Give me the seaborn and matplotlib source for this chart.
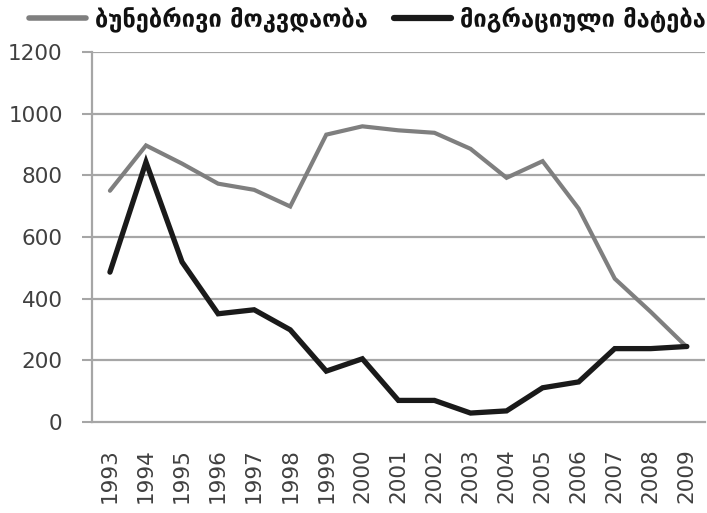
import matplotlib
matplotlib.use("Agg")
import matplotlib.pyplot as plt
import numpy as np
import pandas as pd
import seaborn as sns

years = ["1993", "1994", "1995", "1996", "1997", "1998", "1999", "2000", "2001",
         "2002", "2003", "2004", "2005", "2006", "2007", "2008", "2009"]
mortality = [750, 897, 838, 773, 753, 699, 932, 959, 946, 938, 886, 792, 846, 692, 465, 357, 243]
migration = [486, 843, 519, 351, 364, 299, 165, 205, 70, 70, 29, 36, 111, 130, 238, 238, 245]
name_mort = "ბუნებრივი მოკვდაობა"
name_migr = "მიგრაციული მატება"

df = pd.concat([
    pd.DataFrame({"x": np.arange(len(years)), "value": mortality, "series": name_mort}),
    pd.DataFrame({"x": np.arange(len(years)), "value": migration, "series": name_migr}),
])

sns.set_style("white")
plt.rcParams["font.family"] = ["DejaVu Sans"]

fig = plt.figure(figsize=(7.07, 5.13), dpi=100)
ax = fig.add_axes([0.130, 0.1774, 0.867, 0.7212])

grid_c = "#a6a6a6"
for v in range(200, 1201, 200):
    ax.axhline(v, color=grid_c, lw=1.6, zorder=0)

sns.lineplot(data=df, x="x", y="value", hue="series",
             palette={name_mort: "#7f7f7f", name_migr: "#1a1a1a"},
             legend=False, ax=ax)
lines = ax.get_lines()[-2:]
lines[0].set_linewidth(3.0)
lines[1].set_linewidth(3.8)
for l in lines:
    l.set_solid_joinstyle("miter")

ax.set_xlim(-0.5, len(years) - 0.5)
ax.set_ylim(0, 1200)
ax.set_yticks(range(0, 1201, 200))
ax.set_xticks(np.arange(len(years)))
ax.set_xticklabels(years, rotation=90)
ax.set_xticks(np.arange(-0.5, len(years), 1.0), minor=True)
ax.tick_params(axis="x", which="major", length=0, pad=19, labelsize=15.5, labelcolor="#404040")
ax.tick_params(axis="x", which="minor", length=9, width=1.5, color=grid_c, direction="out")
ax.tick_params(axis="y", length=7, width=1.5, color=grid_c, pad=14, labelsize=15.5,
               labelcolor="#404040", direction="out", left=True)
ax.set_xlabel("")
ax.set_ylabel("")

for s in ["top", "right"]:
    ax.spines[s].set_visible(False)
for s in ["left", "bottom"]:
    ax.spines[s].set_color(grid_c)
    ax.spines[s].set_linewidth(1.6)

handles = [plt.Line2D([], [], color="#7f7f7f", lw=4.0),
           plt.Line2D([], [], color="#1a1a1a", lw=4.5)]
fig.legend(handles, [name_mort, name_migr], ncol=2, frameon=False,
           loc="center", bbox_to_anchor=(0.52, 0.963),
           prop={"weight": "bold", "size": 17}, handlelength=2.4,
           handletextpad=0.4, columnspacing=1.1, labelcolor="#111111")

fig.savefig("out.png", dpi=100)
